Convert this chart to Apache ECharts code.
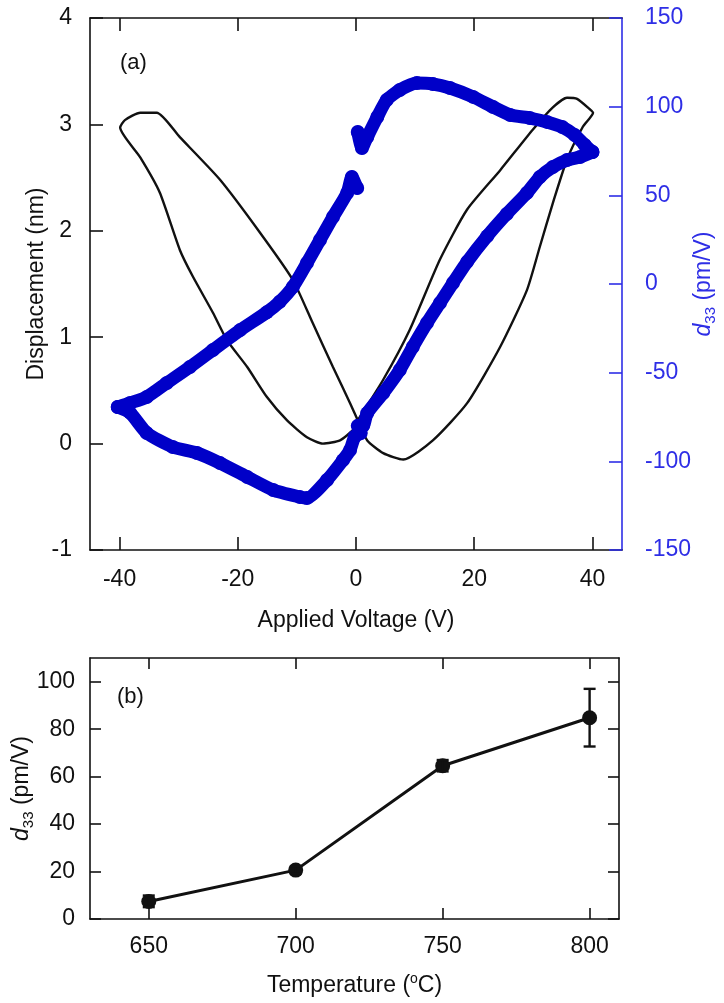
<!DOCTYPE html>
<html>
<head>
<meta charset="utf-8">
<script src="https://cdn.jsdelivr.net/npm/echarts@6/dist/echarts.min.js"></script>
<style>
html,body{margin:0;padding:0;background:#fff;}
#c{width:724px;height:1003px;}
</style>
</head>
<body>
<div id="c"></div>
<script>
// ---------- Panel (a): displacement butterfly loop (black) ----------
const dispV  = [0.3, 4.6, 9.1, 14.2, 18.8, 24.4, 29.9, 33.3, 35.7, 37.4, 39.6, 40.1,
                38.4, 35.7, 33.3, 31.1, 28.9, 24.4, 18.8, 13.0, 8.0, 4.6, 1.9, 0.3,
                -1.0, -3.9, -7.3, -10.7, -16.2, -23.0, -29.8, -33.7, -36.5, -39.1, -39.9,
                -36.5, -33.2, -29.8, -27.6, -24.2, -21.8, -18.4, -15.1, -11.7, -8.3, -5.6, -2.7, -0.5, 0.3];
const dispNm = [0.22, 0.60, 1.07, 1.73, 2.20, 2.57, 2.95, 3.16, 3.25, 3.24, 3.14, 3.11,
                2.98, 2.67, 2.26, 1.85, 1.44, 0.91, 0.38, 0.03, -0.15, -0.09, 0.03, 0.22,
                0.38, 0.72, 1.13, 1.54, 1.98, 2.48, 2.88, 3.11, 3.11, 3.04, 2.97,
                2.69, 2.36, 1.82, 1.57, 1.23, 0.97, 0.72, 0.44, 0.22, 0.06, 0.00, 0.03, 0.13, 0.22];

// ---------- Panel (a): d33 loop (blue), three segments ----------
const d33TopV   = [40.0, 38.7, 37.0, 34.9, 32.3, 29.4, 26.1, 23.2, 19.8, 15.9, 13.0, 10.3, 7.4, 5.2, 3.6, 1.9, 1.0, 0.3];
const d33Top    = [74.4, 78.4, 84.0, 88.5, 91.4, 93.6, 95.3, 99.8, 105.5, 110.5, 112.8, 113.3, 109.4, 103.8, 94.2, 82.9, 76.7, 85.7];
const d33DownV  = [0.2, -0.7, -1.5, -3.9, -6.1, -8.3, -10.7, -12.9, -15.1, -19.6, -24.2, -28.1, -32.0, -35.4, -38.2, -40.3];
const d33Down   = [54.1, 60.3, 51.3, 37.8, 24.8, 11.8, -1.7, -10.0, -16.0, -26.0, -37.2, -46.8, -55.8, -63.7, -67.1, -69.4];
const d33UpV    = [-40.3, -38.2, -35.4, -31.0, -26.9, -23.0, -18.4, -14.0, -9.5, -8.3, -4.9, -2.2, -1.0, -0.2, 0.8, 0.3, 1.2,
                   1.9, 4.6, 7.4, 9.6, 12.0, 14.2, 16.4, 18.8, 22.2, 25.5, 28.9, 31.1, 33.3, 35.7, 37.9, 40.0];
const d33Up     = [-69.4, -72.7, -84.0, -91.9, -95.3, -101.0, -108.8, -116.2, -120.1, -120.7, -110.5, -99.3, -93.6, -86.0, -84.0, -80.0, -80.0,
                   -72.8, -61.5, -48.5, -35.5, -22.0, -10.7, 0.6, 12.5, 27.0, 39.5, 51.3, 60.3, 66.0, 69.9, 71.6, 74.4];

const xTicksA = [-40, -20, 0, 20, 40];

// ---------- Panel (b): d33 vs temperature ----------
const temps    = [650, 700, 750, 800];
const d33Mean  = [7.4, 20.6, 64.6, 84.8];
const d33ErrLo = [5.0, 19.1, 62.2, 72.7];
const d33ErrHi = [9.9, 22.1, 67.0, 97.0];
const xTicksB  = [650, 700, 750, 800];
const yTicksB  = [0, 20, 40, 60, 80, 100];

const FONT = "'Liberation Sans', Arial, Helvetica, sans-serif";
const FS = 23;
const INK = '#111';
const BLUE = '#0000C8';
const BLUE_AX = '#2E2EE6';

function zip(a, b) { return a.map((v, i) => [v, b[i]]); }

const tickInside = (len, color) => ({ show: true, inside: true, length: len, lineStyle: { color: color || INK, width: 1.6 } });
const axLine = (color) => ({ show: true, onZero: false, lineStyle: { color: color || INK, width: 1.6 } });
const lbl = (extra) => Object.assign({ color: INK, fontSize: FS, fontFamily: FONT }, extra || {});

const d33Rich = (color) => ({
  color: color, fontSize: FS, fontFamily: FONT, lineHeight: 28,
  rich: {
    i: { fontStyle: 'italic', fontSize: FS, fontFamily: FONT, color: color, lineHeight: 28 },
    s: { fontSize: 15, fontFamily: FONT, color: color, lineHeight: 15, verticalAlign: 'bottom' }
  }
});

const chart = echarts.init(document.getElementById('c'), null, { renderer: 'canvas' });
chart.setOption({
  animation: false,
  backgroundColor: '#fff',
  grid: [
    { left: 90, top: 18, width: 532, height: 532, containLabel: false, outerBoundsMode: 'none' },
    { left: 90, top: 658, width: 529, height: 261, containLabel: false, outerBoundsMode: 'none' }
  ],
  xAxis: [
    { gridIndex: 0, type: 'value', min: -45, max: 45, position: 'bottom',
      name: 'Applied Voltage (V)', nameLocation: 'middle', nameGap: 59, nameMoveOverlap: false,
      nameTextStyle: lbl(),
      axisLine: axLine(), axisTick: Object.assign(tickInside(13), { customValues: xTicksA }),
      axisLabel: lbl({ margin: 18, customValues: xTicksA }), splitLine: { show: false } },
    { gridIndex: 0, type: 'value', min: -45, max: 45, position: 'top',
      axisLine: axLine(), axisTick: Object.assign(tickInside(13), { customValues: xTicksA }),
      axisLabel: { show: false }, splitLine: { show: false } },
    { gridIndex: 1, type: 'value', min: 630, max: 810, position: 'bottom',
      name: '{n|Temperature (}{p|o}{n|C)}', nameLocation: 'middle', nameGap: 53, nameMoveOverlap: false,
      nameTextStyle: { color: INK, fontSize: FS, fontFamily: FONT, lineHeight: 28,
        rich: { n: { fontSize: FS, fontFamily: FONT, color: INK, lineHeight: 28 },
                p: { fontSize: 14, fontFamily: FONT, color: INK, lineHeight: 14, verticalAlign: 'top' } } },
      axisLine: axLine(), axisTick: Object.assign(tickInside(11), { customValues: xTicksB }),
      axisLabel: lbl({ margin: 16, customValues: xTicksB }), splitLine: { show: false } },
    { gridIndex: 1, type: 'value', min: 630, max: 810, position: 'top',
      axisLine: axLine(), axisTick: Object.assign(tickInside(11), { customValues: xTicksB }),
      axisLabel: { show: false }, splitLine: { show: false } }
  ],
  yAxis: [
    { gridIndex: 0, type: 'value', min: -1, max: 4, interval: 1, position: 'left',
      name: 'Displacement (nm)', nameLocation: 'middle', nameGap: 42, nameRotate: 90, nameMoveOverlap: false,
      nameTextStyle: lbl(),
      axisLine: axLine(), axisTick: tickInside(13),
      axisLabel: lbl({ margin: 18 }), splitLine: { show: false } },
    { gridIndex: 0, type: 'value', min: -150, max: 150, interval: 50, position: 'right',
      name: '{i|d}{s|33} (pm/V)', nameLocation: 'middle', nameGap: 68, nameRotate: 90, nameMoveOverlap: false,
      nameTextStyle: d33Rich(BLUE_AX),
      axisLine: axLine(BLUE_AX), axisTick: tickInside(13, BLUE_AX),
      axisLabel: lbl({ margin: 23, color: BLUE_AX }), splitLine: { show: false } },
    { gridIndex: 1, type: 'value', min: 0, max: 110, position: 'left',
      name: '{i|d}{s|33} (pm/V)', nameLocation: 'middle', nameGap: 54, nameRotate: 90, nameMoveOverlap: false,
      nameTextStyle: d33Rich(INK),
      axisLine: axLine(), axisTick: Object.assign(tickInside(11), { customValues: yTicksB }),
      axisLabel: lbl({ margin: 15, customValues: yTicksB }), splitLine: { show: false } },
    { gridIndex: 1, type: 'value', min: 0, max: 110, position: 'right',
      axisLine: axLine(), axisTick: Object.assign(tickInside(11), { customValues: yTicksB }),
      axisLabel: { show: false }, splitLine: { show: false } }
  ],
  graphic: [
    { type: 'text', left: 120, top: 52, style: { text: '(a)', fontSize: 22, fontFamily: FONT, fill: INK } },
    { type: 'text', left: 117, top: 686, style: { text: '(b)', fontSize: 22, fontFamily: FONT, fill: INK } }
  ],
  series: [
    { type: 'line', xAxisIndex: 0, yAxisIndex: 0, data: zip(dispV, dispNm), showSymbol: false,
      smooth: 0.2, lineStyle: { color: INK, width: 2.4 }, z: 3 },
    { type: 'line', xAxisIndex: 0, yAxisIndex: 1, data: zip(d33TopV, d33Top),
      symbol: 'circle', symbolSize: 14, itemStyle: { color: BLUE }, smooth: 0.2,
      lineStyle: { color: BLUE, width: 13, cap: 'round', join: 'round' }, z: 4 },
    { type: 'line', xAxisIndex: 0, yAxisIndex: 1, data: zip(d33DownV, d33Down),
      symbol: 'circle', symbolSize: 14, itemStyle: { color: BLUE }, smooth: 0.2,
      lineStyle: { color: BLUE, width: 13, cap: 'round', join: 'round' }, z: 4 },
    { type: 'line', xAxisIndex: 0, yAxisIndex: 1, data: zip(d33UpV, d33Up),
      symbol: 'circle', symbolSize: 14, itemStyle: { color: BLUE }, smooth: 0.2,
      lineStyle: { color: BLUE, width: 13, cap: 'round', join: 'round' }, z: 4 },
    { type: 'line', xAxisIndex: 2, yAxisIndex: 2, data: zip(temps, d33Mean),
      symbol: 'circle', symbolSize: 15, itemStyle: { color: INK },
      lineStyle: { color: INK, width: 3 }, z: 4 },
    { type: 'custom', xAxisIndex: 2, yAxisIndex: 2,
      data: temps.map((t, i) => [t, d33ErrLo[i], d33ErrHi[i]]),
      encode: { x: 0, y: [1, 2] },
      renderItem: function (params, api) {
        const x = api.value(0);
        const lo = api.coord([x, api.value(1)]);
        const hi = api.coord([x, api.value(2)]);
        const w = 6;
        const st = { stroke: INK, lineWidth: 2.4 };
        return { type: 'group', children: [
          { type: 'line', shape: { x1: lo[0], y1: lo[1], x2: hi[0], y2: hi[1] }, style: st },
          { type: 'line', shape: { x1: hi[0] - w, y1: hi[1], x2: hi[0] + w, y2: hi[1] }, style: st },
          { type: 'line', shape: { x1: lo[0] - w, y1: lo[1], x2: lo[0] + w, y2: lo[1] }, style: st }
        ] };
      }, z: 5 }
  ]
});
</script>
</body>
</html>
